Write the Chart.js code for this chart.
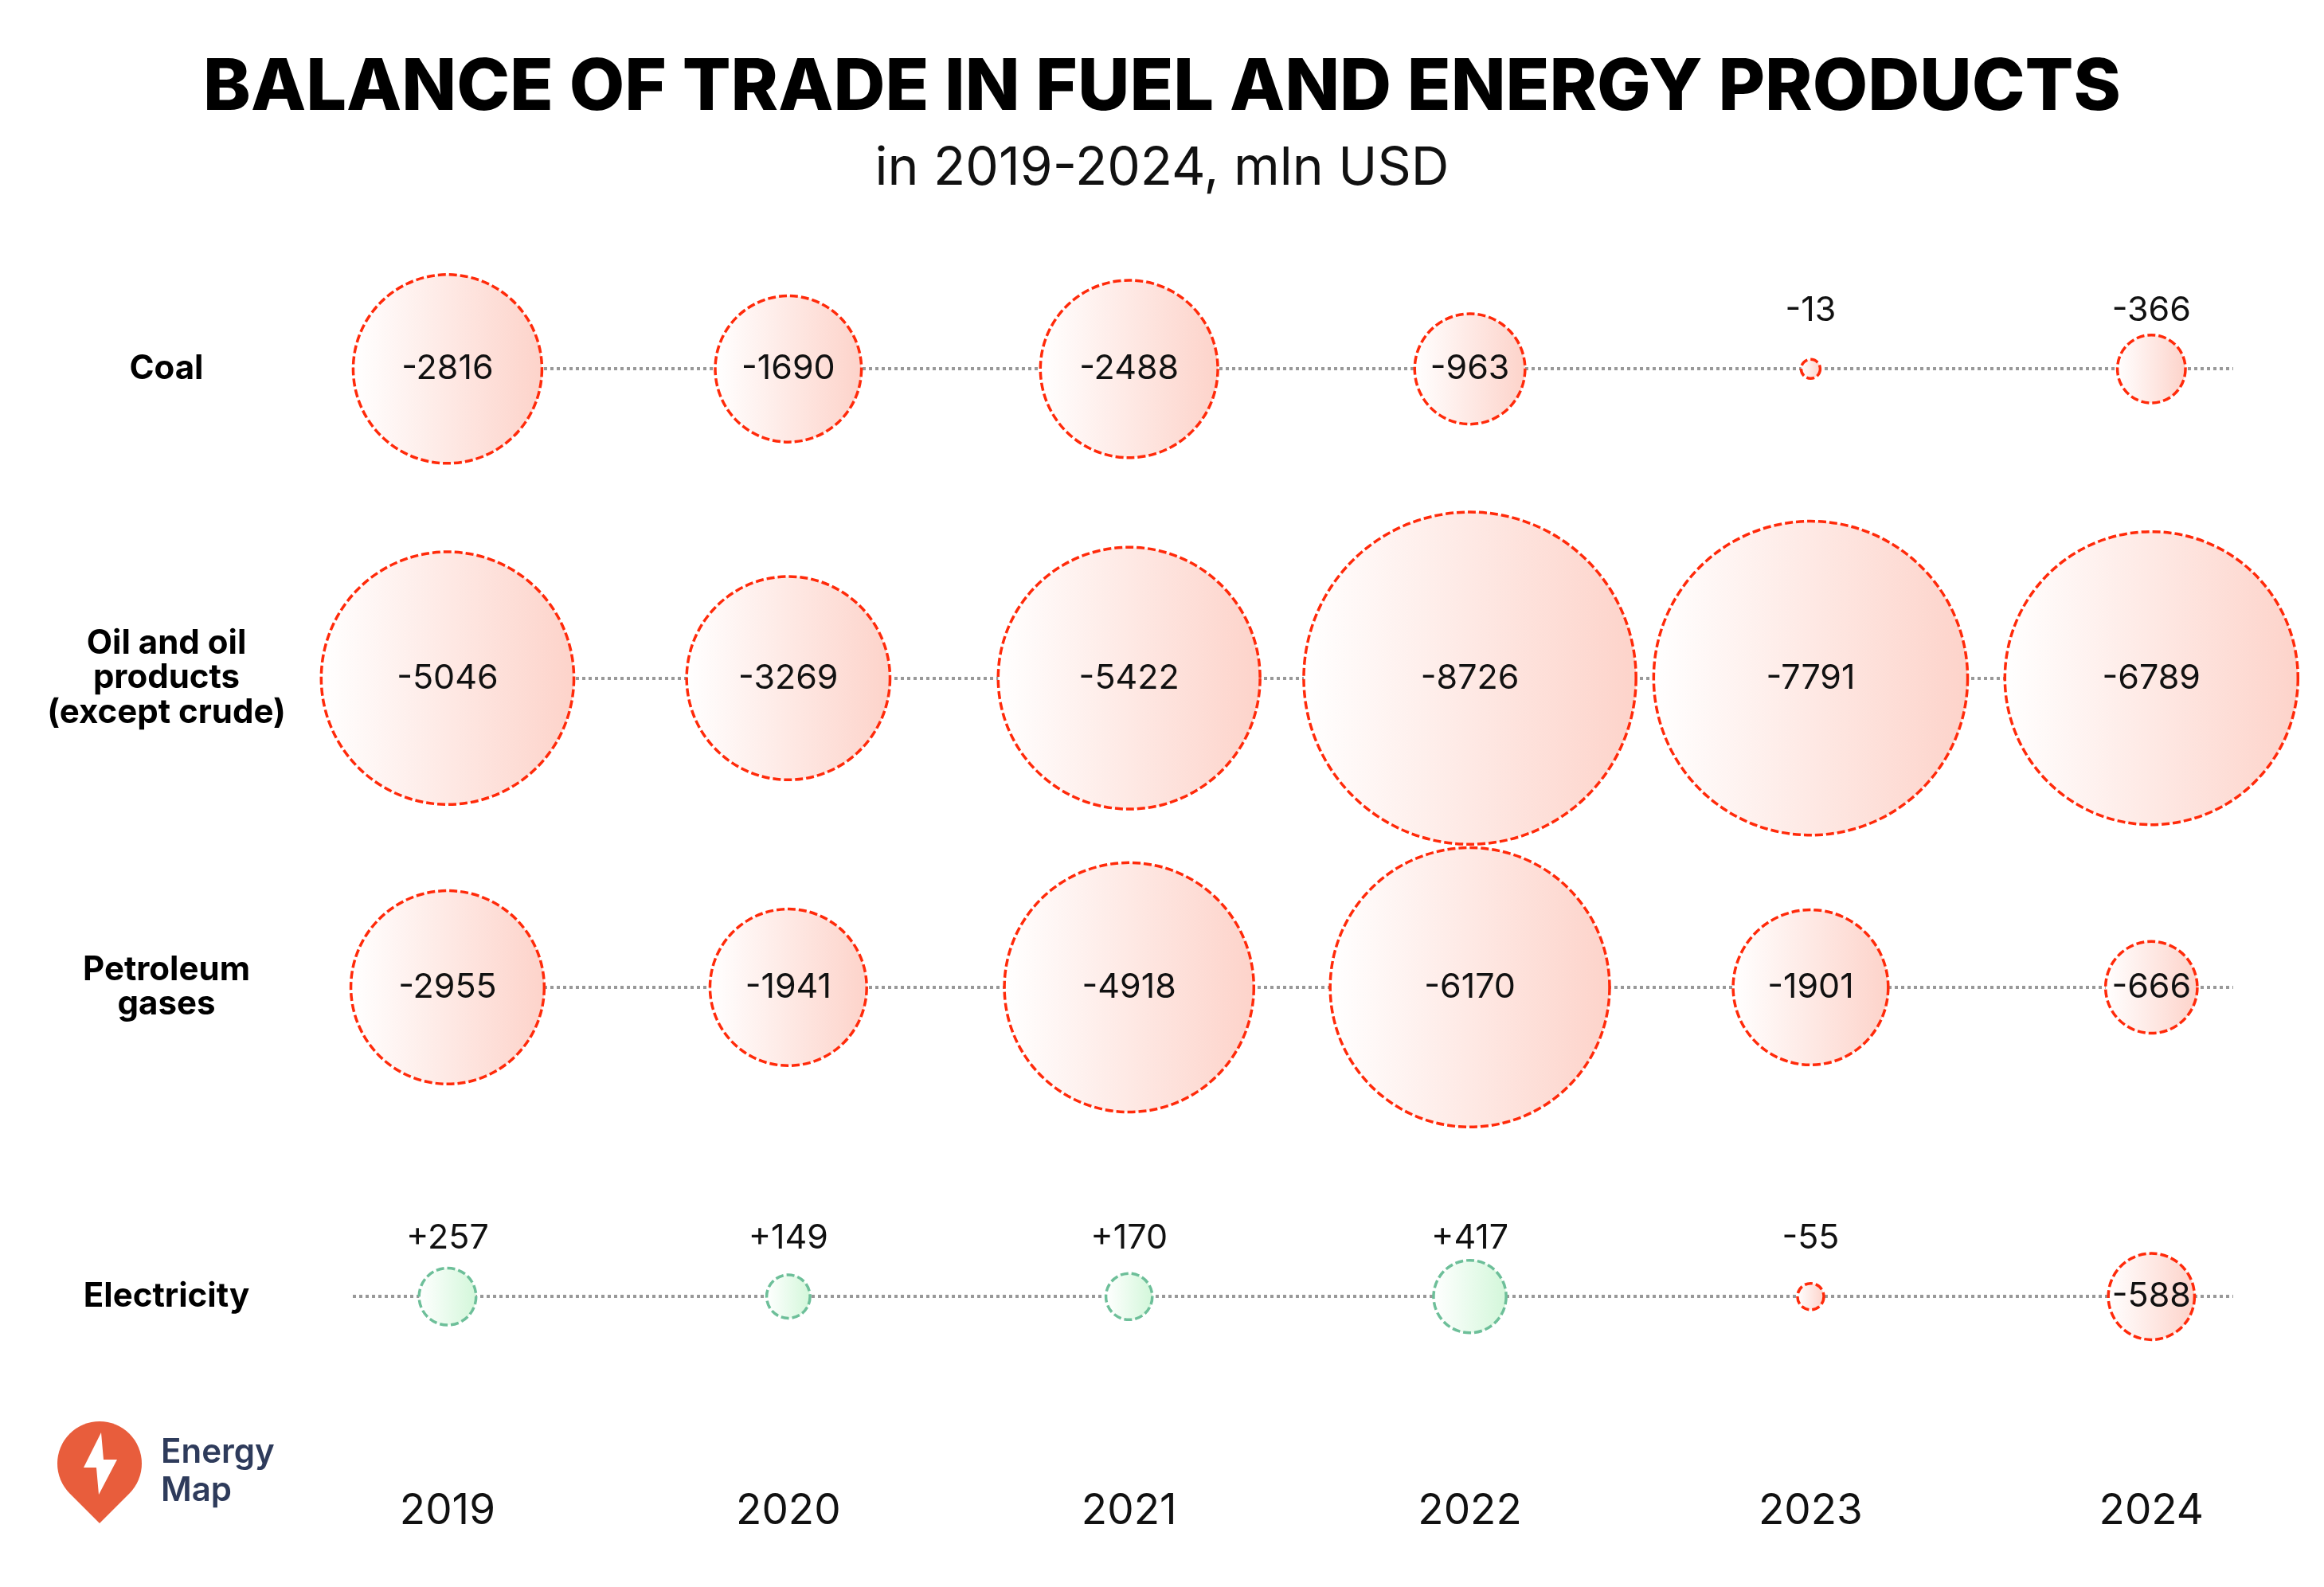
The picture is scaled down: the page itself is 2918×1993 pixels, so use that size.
<!DOCTYPE html>
<html>
<head>
<meta charset="utf-8">
<title>Balance of trade in fuel and energy products</title>
<script src="https://cdn.jsdelivr.net/npm/chart.js@4.4.1/dist/chart.umd.min.js"></script>
<style>
  html, body { margin: 0; padding: 0; background: #fff; overflow: hidden; }
  #wrap { position: relative; width: 2918px; height: 1993px; }
  #logo { position: absolute; left: 0; top: 0; pointer-events: none; }
</style>
</head>
<body>
<div id="wrap">
  <canvas id="chart"></canvas>
  <svg id="logo" width="2918" height="1993" viewBox="0 0 2918 1993">
    <path d="M 87.5 1875.5 A 53 53 0 1 1 162.5 1875.5 L 125 1913 Z" fill="#e85d3c"/>
    <path d="M 127 1799 L 105 1843 L 121 1843 L 124 1877 L 147 1833 L 130 1833 Z" fill="#fff"/>
    <text x="202" y="1837" font-family="Inter" font-weight="600" font-size="42" fill="#2e3b5b">Energy</text>
    <text x="202" y="1885" font-family="Inter" font-weight="600" font-size="42" fill="#2e3b5b">Map</text>
  </svg>
</div>
<script>
// Chart data (mln USD)
const years = [2019, 2020, 2021, 2022, 2023, 2024];
const rowNames = ['Coal', 'Oil and oil products (except crude)', 'Petroleum gases', 'Electricity'];
const rowLines = [['Coal'], ['Oil and oil', 'products', '(except crude)'], ['Petroleum', 'gases'], ['Electricity']];
const coal = [-2816, -1690, -2488, -963, -13, -366];
const oil = [-5046, -3269, -5422, -8726, -7791, -6789];
const gases = [-2955, -1941, -4918, -6170, -1901, -666];
const electricity = [257, 149, 170, 417, -55, -588];
const rows = [coal, oil, gases, electricity];

// Look
const fontFamily = 'Inter, "Noto Sans", sans-serif';
const redLine = '#ff2a0a';
const redFill = '#fdd3ca';
const greenLine = '#6dbf99';
const greenFill = '#d3f7da';
const sizePerSqrt = 2.233;   // bubble radius (px) per sqrt(mln USD)
const minRadius = 12;
const insideMin = 50;        // smaller bubbles get the label above
const labelLift = 73;

function radiusFor(v) {
  return Math.max(minRadius, sizePerSqrt * Math.sqrt(Math.abs(v)));
}

function fmt(v) {
  return v > 0 ? '+' + v : String(v);
}

// widest row label, so the labels can be centred in the left margin
const rowFont = '700 42px ' + fontFamily;
const measure = document.createElement('canvas').getContext('2d');
measure.font = rowFont;
let widestRow = 0;
rowLines.flat().forEach(t => { widestRow = Math.max(widestRow, measure.measureText(t).width); });
const axisWidth = 443;
const rightGap = 114;
const labelCentre = 209;

const datasets = rows.map((vals, rowIdx) => ({
  label: rowNames[rowIdx],
  data: vals.map((v, i) => ({ x: years[i], y: rowNames[rowIdx], r: radiusFor(v), v: v })),
  clip: false,
  borderWidth: 3.5,
  borderColor: ctx => (ctx.raw && ctx.raw.v > 0 ? greenLine : redLine),
  backgroundColor: ctx => {
    const chart = ctx.chart;
    if (!ctx.raw || !chart.scales.x) return redFill;
    const cx = chart.scales.x.getPixelForValue(ctx.raw.x);
    const r = ctx.raw.r;
    if (!isFinite(cx)) return ctx.raw.v > 0 ? greenFill : redFill;
    const g = chart.ctx.createLinearGradient(cx - r, 0, cx + r, 0);
    g.addColorStop(0, '#ffffff');
    g.addColorStop(1, ctx.raw.v > 0 ? greenFill : redFill);
    return g;
  }
}));

// dashed bubble outlines
const dashedBubbles = {
  id: 'dashedBubbles',
  beforeDatasetDraw(chart) {
    chart.ctx.save();
    chart.ctx.setLineDash([10, 4]);
  },
  afterDatasetDraw(chart) {
    chart.ctx.restore();
  }
};

// value labels: inside big bubbles, above small ones
const valueLabels = {
  id: 'valueLabels',
  afterDatasetsDraw(chart) {
    const ctx = chart.ctx;
    ctx.save();
    ctx.font = '400 43px ' + fontFamily;
    ctx.fillStyle = '#111';
    ctx.textAlign = 'center';
    ctx.textBaseline = 'middle';
    chart.data.datasets.forEach((ds, di) => {
      chart.getDatasetMeta(di).data.forEach((el, i) => {
        const raw = ds.data[i];
        const y = raw.r >= insideMin ? el.y : el.y - labelLift;
        ctx.fillText(fmt(raw.v), el.x, y);
      });
    });
    ctx.restore();
  }
};

new Chart(document.getElementById('chart'), {
  type: 'bubble',
  data: { datasets: datasets },
  plugins: [dashedBubbles, valueLabels],
  options: {
    responsive: true,
    maintainAspectRatio: false,
    devicePixelRatio: 1,
    animation: false,
    events: [],
    layout: { autoPadding: false, padding: { left: 0, right: 0, top: 0, bottom: 19 } },
    plugins: {
      legend: { display: false },
      tooltip: { enabled: false },
      title: {
        display: true,
        text: 'BALANCE OF TRADE IN FUEL AND ENERGY PRODUCTS',
        color: '#000',
        font: { family: fontFamily, size: 90, weight: '800' },
        padding: { top: 57, bottom: 0 }
      },
      subtitle: {
        display: true,
        text: 'in 2019-2024, mln USD',
        color: '#111',
        font: { family: fontFamily, size: 66, weight: '400' },
        padding: { top: 8, bottom: 17 }
      }
    },
    scales: {
      x: {
        type: 'linear',
        min: years[0] - 0.278,
        max: years[years.length - 1] + 0.24,
        afterBuildTicks: axis => { axis.ticks = years.map(y => ({ value: y })); },
        ticks: {
          callback: v => String(v),
          color: '#111',
          padding: 44,
          font: { family: fontFamily, size: 53, weight: '400' }
        },
        grid: { display: false, drawTicks: false },
        border: { display: false }
      },
      y: {
        type: 'category',
        labels: rowNames,
        offset: true,
        afterFit: scale => { scale.width = axisWidth; },
        ticks: {
          callback: (value, index) => rowLines[index],
          crossAlign: 'center',
          padding: axisWidth - labelCentre - widestRow / 2,
          color: '#000',
          font: { family: fontFamily, size: 42, weight: '700', lineHeight: 1.04 }
        },
        grid: {
          color: '#999',
          lineWidth: 4,
          drawTicks: false,
          borderDash: [4, 4]
        },
        border: { display: false, dash: [4, 4] }
      },
      // empty right-hand axis, only keeps a margin after the dotted lines
      gap: {
        type: 'linear',
        position: 'right',
        afterFit: scale => { scale.width = rightGap; },
        ticks: { display: false },
        grid: { display: false, drawTicks: false },
        border: { display: false }
      }
    }
  }
});
</script>
</body>
</html>
